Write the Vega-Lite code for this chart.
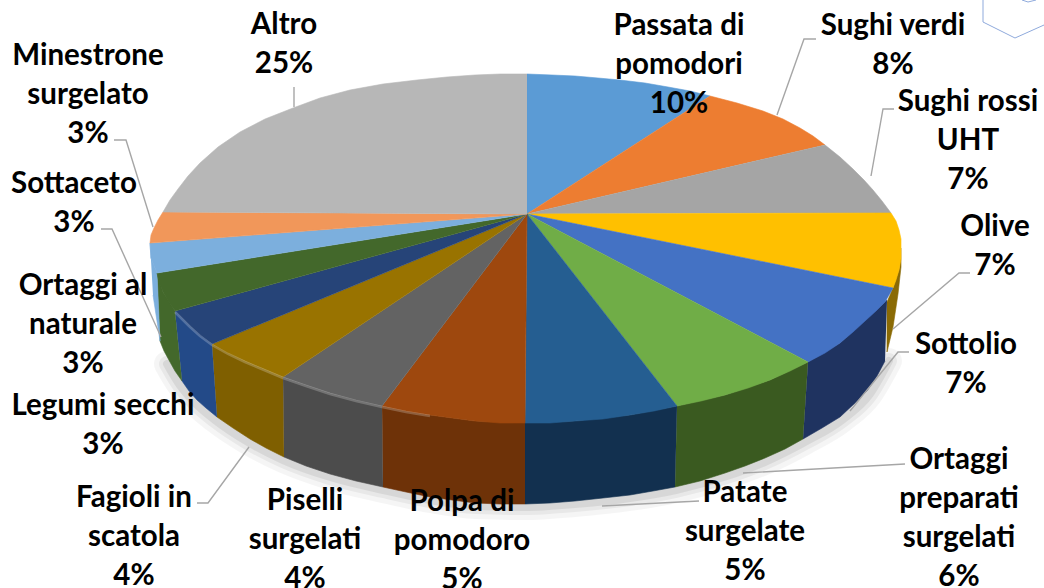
{"$schema":"https://vega.github.io/schema/vega-lite/v6.json","width":1044,"height":588,"padding":0,"autosize":{"type":"none"},"background":"white","config":{"view":{"stroke":null}},
"datasets":{
"top":[
{"s":"Passata di pomodori","i":0,"x":527,"y":214},{"s":"Passata di pomodori","i":1,"x":527,"y":74},{"s":"Passata di pomodori","i":2,"x":552,"y":75},{"s":"Passata di pomodori","i":3,"x":575,"y":76},{"s":"Passata di pomodori","i":4,"x":598,"y":78},{"s":"Passata di pomodori","i":5,"x":620,"y":80},{"s":"Passata di pomodori","i":6,"x":645,"y":83},{"s":"Passata di pomodori","i":7,"x":668,"y":87},{"s":"Passata di pomodori","i":8,"x":690,"y":91},{"s":"Passata di pomodori","i":9,"x":710,"y":96},
{"s":"Sughi verdi","i":0,"x":527,"y":214},{"s":"Sughi verdi","i":1,"x":710,"y":96},{"s":"Sughi verdi","i":2,"x":737,"y":103},{"s":"Sughi verdi","i":3,"x":763,"y":111},{"s":"Sughi verdi","i":4,"x":783,"y":119},{"s":"Sughi verdi","i":5,"x":800,"y":128},{"s":"Sughi verdi","i":6,"x":813,"y":136},{"s":"Sughi verdi","i":7,"x":825,"y":145},
{"s":"Sughi rossi UHT","i":0,"x":527,"y":214},{"s":"Sughi rossi UHT","i":1,"x":825,"y":145},{"s":"Sughi rossi UHT","i":2,"x":840,"y":157},{"s":"Sughi rossi UHT","i":3,"x":853,"y":169},{"s":"Sughi rossi UHT","i":4,"x":864,"y":180},{"s":"Sughi rossi UHT","i":5,"x":873,"y":190},{"s":"Sughi rossi UHT","i":6,"x":882,"y":201},{"s":"Sughi rossi UHT","i":7,"x":891,"y":213},
{"s":"Olive","i":0,"x":527,"y":214},{"s":"Olive","i":1,"x":891,"y":213},{"s":"Olive","i":2,"x":896,"y":221},{"s":"Olive","i":3,"x":899,"y":230},{"s":"Olive","i":4,"x":901,"y":239},{"s":"Olive","i":5,"x":901,"y":248},{"s":"Olive","i":6,"x":901,"y":259},{"s":"Olive","i":7,"x":899,"y":270},{"s":"Olive","i":8,"x":896,"y":280},{"s":"Olive","i":9,"x":893,"y":288},
{"s":"Sottolio","i":0,"x":527,"y":214},{"s":"Sottolio","i":1,"x":893,"y":288},{"s":"Sottolio","i":2,"x":885,"y":302},{"s":"Sottolio","i":3,"x":876,"y":311},{"s":"Sottolio","i":4,"x":865,"y":321},{"s":"Sottolio","i":5,"x":853,"y":332},{"s":"Sottolio","i":6,"x":840,"y":343},{"s":"Sottolio","i":7,"x":825,"y":353},{"s":"Sottolio","i":8,"x":808,"y":362},
{"s":"Ortaggi preparati surgelati","i":0,"x":527,"y":214},{"s":"Ortaggi preparati surgelati","i":1,"x":808,"y":362},{"s":"Ortaggi preparati surgelati","i":2,"x":790,"y":371},{"s":"Ortaggi preparati surgelati","i":3,"x":770,"y":380},{"s":"Ortaggi preparati surgelati","i":4,"x":748,"y":388},{"s":"Ortaggi preparati surgelati","i":5,"x":725,"y":395},{"s":"Ortaggi preparati surgelati","i":6,"x":701,"y":401},{"s":"Ortaggi preparati surgelati","i":7,"x":677,"y":406},
{"s":"Patate surgelate","i":0,"x":527,"y":214},{"s":"Patate surgelate","i":1,"x":677,"y":406},{"s":"Patate surgelate","i":2,"x":654,"y":411},{"s":"Patate surgelate","i":3,"x":630,"y":415},{"s":"Patate surgelate","i":4,"x":603,"y":419},{"s":"Patate surgelate","i":5,"x":575,"y":421},{"s":"Patate surgelate","i":6,"x":550,"y":423},{"s":"Patate surgelate","i":7,"x":525,"y":423},
{"s":"Polpa di pomodoro","i":0,"x":527,"y":214},{"s":"Polpa di pomodoro","i":1,"x":525,"y":423},{"s":"Polpa di pomodoro","i":2,"x":500,"y":423},{"s":"Polpa di pomodoro","i":3,"x":475,"y":421},{"s":"Polpa di pomodoro","i":4,"x":452,"y":418},{"s":"Polpa di pomodoro","i":5,"x":430,"y":415},{"s":"Polpa di pomodoro","i":6,"x":406,"y":411},{"s":"Polpa di pomodoro","i":7,"x":382,"y":406},
{"s":"Piselli surgelati","i":0,"x":527,"y":214},{"s":"Piselli surgelati","i":1,"x":382,"y":406},{"s":"Piselli surgelati","i":2,"x":356,"y":400},{"s":"Piselli surgelati","i":3,"x":330,"y":393},{"s":"Piselli surgelati","i":4,"x":306,"y":385},{"s":"Piselli surgelati","i":5,"x":283,"y":377},
{"s":"Fagioli in scatola","i":0,"x":527,"y":214},{"s":"Fagioli in scatola","i":1,"x":283,"y":377},{"s":"Fagioli in scatola","i":2,"x":264,"y":369},{"s":"Fagioli in scatola","i":3,"x":245,"y":361},{"s":"Fagioli in scatola","i":4,"x":228,"y":353},{"s":"Fagioli in scatola","i":5,"x":212,"y":344},
{"s":"Legumi secchi","i":0,"x":527,"y":214},{"s":"Legumi secchi","i":1,"x":212,"y":344},{"s":"Legumi secchi","i":2,"x":200,"y":335},{"s":"Legumi secchi","i":3,"x":190,"y":326},{"s":"Legumi secchi","i":4,"x":182,"y":318},{"s":"Legumi secchi","i":5,"x":175,"y":311},
{"s":"Ortaggi al naturale","i":0,"x":527,"y":214},{"s":"Ortaggi al naturale","i":1,"x":175,"y":311},{"s":"Ortaggi al naturale","i":2,"x":168,"y":301},{"s":"Ortaggi al naturale","i":3,"x":163,"y":292},{"s":"Ortaggi al naturale","i":4,"x":159,"y":282},{"s":"Ortaggi al naturale","i":5,"x":157,"y":273},
{"s":"Sottaceto","i":0,"x":527,"y":214},{"s":"Sottaceto","i":1,"x":157,"y":273},{"s":"Sottaceto","i":2,"x":151,"y":258},{"s":"Sottaceto","i":3,"x":150,"y":243},
{"s":"Minestrone surgelato","i":0,"x":527,"y":214},{"s":"Minestrone surgelato","i":1,"x":150,"y":243},{"s":"Minestrone surgelato","i":2,"x":151,"y":235},{"s":"Minestrone surgelato","i":3,"x":154,"y":228},{"s":"Minestrone surgelato","i":4,"x":158,"y":220},{"s":"Minestrone surgelato","i":5,"x":163,"y":212},
{"s":"Altro","i":0,"x":527,"y":214},{"s":"Altro","i":1,"x":163,"y":212},{"s":"Altro","i":2,"x":170,"y":200},{"s":"Altro","i":3,"x":178,"y":189},{"s":"Altro","i":4,"x":188,"y":176},{"s":"Altro","i":5,"x":200,"y":163},{"s":"Altro","i":6,"x":218,"y":147},{"s":"Altro","i":7,"x":240,"y":132},{"s":"Altro","i":8,"x":265,"y":119},{"s":"Altro","i":9,"x":293,"y":108},{"s":"Altro","i":10,"x":320,"y":98},{"s":"Altro","i":11,"x":350,"y":90},{"s":"Altro","i":12,"x":383,"y":84},{"s":"Altro","i":13,"x":417,"y":80},{"s":"Altro","i":14,"x":447,"y":77},{"s":"Altro","i":15,"x":475,"y":75},{"s":"Altro","i":16,"x":500,"y":74},{"s":"Altro","i":17,"x":527,"y":74}
],
"rim":[
{"s":"Olive","i":0,"x":901,"y":248},{"s":"Olive","i":1,"x":901,"y":267},{"s":"Olive","i":2,"x":898,"y":294},{"s":"Olive","i":3,"x":893,"y":327},{"s":"Olive","i":4,"x":887,"y":352},{"s":"Olive","i":5,"x":887,"y":302},{"s":"Olive","i":6,"x":893,"y":288},{"s":"Olive","i":7,"x":899,"y":270},
{"s":"Sottolio","i":0,"x":887,"y":300},{"s":"Sottolio","i":1,"x":865,"y":320},{"s":"Sottolio","i":2,"x":840,"y":343},{"s":"Sottolio","i":3,"x":808,"y":362},{"s":"Sottolio","i":4,"x":803,"y":439},{"s":"Sottolio","i":5,"x":822,"y":428},{"s":"Sottolio","i":6,"x":840,"y":417},{"s":"Sottolio","i":7,"x":854,"y":404},{"s":"Sottolio","i":8,"x":867,"y":391},{"s":"Sottolio","i":9,"x":877,"y":376},{"s":"Sottolio","i":10,"x":885,"y":361},
{"s":"Ortaggi preparati surgelati","i":0,"x":808,"y":362},{"s":"Ortaggi preparati surgelati","i":1,"x":770,"y":380},{"s":"Ortaggi preparati surgelati","i":2,"x":725,"y":395},{"s":"Ortaggi preparati surgelati","i":3,"x":677,"y":406},{"s":"Ortaggi preparati surgelati","i":4,"x":675,"y":487},{"s":"Ortaggi preparati surgelati","i":5,"x":700,"y":481},{"s":"Ortaggi preparati surgelati","i":6,"x":725,"y":473},{"s":"Ortaggi preparati surgelati","i":7,"x":745,"y":466},{"s":"Ortaggi preparati surgelati","i":8,"x":765,"y":458},{"s":"Ortaggi preparati surgelati","i":9,"x":785,"y":449},{"s":"Ortaggi preparati surgelati","i":10,"x":803,"y":439},
{"s":"Patate surgelate","i":0,"x":677,"y":406},{"s":"Patate surgelate","i":1,"x":630,"y":415},{"s":"Patate surgelate","i":2,"x":575,"y":421},{"s":"Patate surgelate","i":3,"x":525,"y":423},{"s":"Patate surgelate","i":4,"x":525,"y":504},{"s":"Patate surgelate","i":5,"x":550,"y":503},{"s":"Patate surgelate","i":6,"x":575,"y":501},{"s":"Patate surgelate","i":7,"x":603,"y":498},{"s":"Patate surgelate","i":8,"x":630,"y":495},{"s":"Patate surgelate","i":9,"x":653,"y":491},{"s":"Patate surgelate","i":10,"x":675,"y":487},
{"s":"Polpa di pomodoro","i":0,"x":525,"y":423},{"s":"Polpa di pomodoro","i":1,"x":475,"y":421},{"s":"Polpa di pomodoro","i":2,"x":430,"y":415},{"s":"Polpa di pomodoro","i":3,"x":382,"y":406},{"s":"Polpa di pomodoro","i":4,"x":383,"y":487},{"s":"Polpa di pomodoro","i":5,"x":406,"y":492},{"s":"Polpa di pomodoro","i":6,"x":430,"y":497},{"s":"Polpa di pomodoro","i":7,"x":452,"y":500},{"s":"Polpa di pomodoro","i":8,"x":475,"y":503},{"s":"Polpa di pomodoro","i":9,"x":500,"y":504},{"s":"Polpa di pomodoro","i":10,"x":525,"y":504},
{"s":"Piselli surgelati","i":0,"x":382,"y":406},{"s":"Piselli surgelati","i":1,"x":330,"y":393},{"s":"Piselli surgelati","i":2,"x":283,"y":377},{"s":"Piselli surgelati","i":3,"x":284,"y":457},{"s":"Piselli surgelati","i":4,"x":306,"y":466},{"s":"Piselli surgelati","i":5,"x":330,"y":474},{"s":"Piselli surgelati","i":6,"x":356,"y":481},{"s":"Piselli surgelati","i":7,"x":383,"y":487},
{"s":"Fagioli in scatola","i":0,"x":283,"y":377},{"s":"Fagioli in scatola","i":1,"x":245,"y":361},{"s":"Fagioli in scatola","i":2,"x":212,"y":344},{"s":"Fagioli in scatola","i":3,"x":217,"y":417},{"s":"Fagioli in scatola","i":4,"x":233,"y":428},{"s":"Fagioli in scatola","i":5,"x":250,"y":439},{"s":"Fagioli in scatola","i":6,"x":266,"y":448},{"s":"Fagioli in scatola","i":7,"x":284,"y":457},
{"s":"Legumi secchi","i":0,"x":212,"y":344},{"s":"Legumi secchi","i":1,"x":190,"y":326},{"s":"Legumi secchi","i":2,"x":175,"y":311},{"s":"Legumi secchi","i":3,"x":182,"y":381},{"s":"Legumi secchi","i":4,"x":189,"y":391},{"s":"Legumi secchi","i":5,"x":197,"y":400},{"s":"Legumi secchi","i":6,"x":206,"y":408},{"s":"Legumi secchi","i":7,"x":217,"y":417},
{"s":"Ortaggi al naturale","i":0,"x":175,"y":311},{"s":"Ortaggi al naturale","i":1,"x":163,"y":292},{"s":"Ortaggi al naturale","i":2,"x":157,"y":273},{"s":"Ortaggi al naturale","i":3,"x":160,"y":341},{"s":"Ortaggi al naturale","i":4,"x":164,"y":351},{"s":"Ortaggi al naturale","i":5,"x":170,"y":362},{"s":"Ortaggi al naturale","i":6,"x":175,"y":371},{"s":"Ortaggi al naturale","i":7,"x":182,"y":381},
{"s":"Sottaceto","i":0,"x":150,"y":243},{"s":"Sottaceto","i":1,"x":151,"y":258},{"s":"Sottaceto","i":2,"x":157,"y":273},{"s":"Sottaceto","i":3,"x":160,"y":341},{"s":"Sottaceto","i":4,"x":153,"y":295}
],
"shadow":[
{"i":0,"x":889,"y":361},{"i":1,"x":870,"y":394},{"i":2,"x":842,"y":420},{"i":3,"x":805,"y":442},{"i":4,"x":767,"y":461},{"i":5,"x":727,"y":476},{"i":6,"x":676,"y":490},{"i":7,"x":630,"y":498},{"i":8,"x":575,"y":504},{"i":9,"x":525,"y":507},{"i":10,"x":475,"y":506},{"i":11,"x":430,"y":500},{"i":12,"x":383,"y":490},{"i":13,"x":330,"y":477},{"i":14,"x":283,"y":460},{"i":15,"x":248,"y":442},{"i":16,"x":215,"y":420},{"i":17,"x":195,"y":403},{"i":18,"x":179,"y":384},{"i":19,"x":167,"y":364}
],
"bevel":[
{"i":0,"x":430,"y":416},{"i":1,"x":406,"y":412},{"i":2,"x":382,"y":407},{"i":3,"x":356,"y":401},{"i":4,"x":330,"y":394},{"i":5,"x":306,"y":386},{"i":6,"x":283,"y":378},{"i":7,"x":264,"y":370},{"i":8,"x":245,"y":362},{"i":9,"x":228,"y":354},{"i":10,"x":212,"y":345},{"i":11,"x":200,"y":336},{"i":12,"x":190,"y":327},{"i":13,"x":182,"y":319},{"i":14,"x":175,"y":312}
],
"leaders":[
{"s":"Sughi verdi","i":0,"x":816,"y":39},{"s":"Sughi verdi","i":1,"x":804,"y":39},{"s":"Sughi verdi","i":2,"x":777,"y":115},
{"s":"Sughi rossi UHT","i":0,"x":894,"y":109},{"s":"Sughi rossi UHT","i":1,"x":883,"y":109},{"s":"Sughi rossi UHT","i":2,"x":871,"y":176},
{"s":"Olive","i":0,"x":970,"y":273},{"s":"Olive","i":1,"x":959,"y":273},{"s":"Olive","i":2,"x":893,"y":329},
{"s":"Sottolio","i":0,"x":909,"y":352},{"s":"Sottolio","i":1,"x":898,"y":352},{"s":"Sottolio","i":2,"x":850,"y":411},
{"s":"Ortaggi preparati surgelati","i":0,"x":905,"y":464},{"s":"Ortaggi preparati surgelati","i":1,"x":743,"y":473},
{"s":"Patate surgelate","i":0,"x":699,"y":501},{"s":"Patate surgelate","i":1,"x":602,"y":506},
{"s":"Fagioli in scatola","i":0,"x":197,"y":503},{"s":"Fagioli in scatola","i":1,"x":208,"y":503},{"s":"Fagioli in scatola","i":2,"x":249,"y":447},
{"s":"Altro","i":0,"x":294,"y":87},{"s":"Altro","i":1,"x":294,"y":107},
{"s":"Minestrone surgelato","i":0,"x":114,"y":140},{"s":"Minestrone surgelato","i":1,"x":126,"y":140},{"s":"Minestrone surgelato","i":2,"x":153,"y":227},
{"s":"Sottaceto","i":0,"x":101,"y":229},{"s":"Sottaceto","i":1,"x":112,"y":229},{"s":"Sottaceto","i":2,"x":161,"y":337}
],
"deco":[
{"s":"a","i":0,"x":983,"y":0},{"s":"a","i":1,"x":983,"y":22},{"s":"a","i":2,"x":1015,"y":38},{"s":"a","i":3,"x":1044,"y":25},
{"s":"b","i":0,"x":1022,"y":0},{"s":"b","i":1,"x":1028,"y":2},{"s":"b","i":2,"x":1036,"y":0}
],
"labels":[
{"slice":"Passata di pomodori","pct":10,"text":"Passata di\npomodori\n10%","x":679,"y":26},
{"slice":"Sughi verdi","pct":8,"text":"Sughi verdi\n8%","x":893,"y":26},
{"slice":"Sughi rossi UHT","pct":7,"text":"Sughi rossi\nUHT\n7%","x":968,"y":102},
{"slice":"Olive","pct":7,"text":"Olive\n7%","x":995,"y":227},
{"slice":"Sottolio","pct":7,"text":"Sottolio\n7%","x":966,"y":345},
{"slice":"Ortaggi preparati surgelati","pct":6,"text":"Ortaggi\npreparati\nsurgelati\n6%","x":959,"y":460},
{"slice":"Patate surgelate","pct":5,"text":"Patate\nsurgelate\n5%","x":745,"y":493},
{"slice":"Polpa di pomodoro","pct":5,"text":"Polpa di\npomodoro\n5%","x":462,"y":502},
{"slice":"Piselli surgelati","pct":4,"text":"Piselli\nsurgelati\n4%","x":305,"y":501},
{"slice":"Fagioli in scatola","pct":4,"text":"Fagioli in\nscatola\n4%","x":134,"y":498},
{"slice":"Legumi secchi","pct":3,"text":"Legumi secchi\n3%","x":103,"y":406},
{"slice":"Ortaggi al naturale","pct":3,"text":"Ortaggi al\nnaturale\n3%","x":83,"y":286},
{"slice":"Sottaceto","pct":3,"text":"Sottaceto\n3%","x":74,"y":184},
{"slice":"Minestrone surgelato","pct":3,"text":"Minestrone\nsurgelato\n3%","x":88,"y":56},
{"slice":"Altro","pct":25,"text":"Altro\n25%","x":284,"y":25}
]},
"encoding":{
"x":{"field":"x","type":"quantitative","scale":{"domain":[0,1044],"nice":false,"zero":false},"axis":null},
"y":{"field":"y","type":"quantitative","scale":{"domain":[588,0],"nice":false,"zero":false},"axis":null}},
"layer":[
{"data":{"name":"shadow"},"mark":{"type":"line","color":"#000000","opacity":0.04,"strokeWidth":26,"strokeCap":"round","interpolate":"monotone"},"encoding":{"order":{"field":"i"}}},
{"data":{"name":"shadow"},"mark":{"type":"line","color":"#000000","opacity":0.05,"strokeWidth":16,"strokeCap":"round","interpolate":"monotone"},"encoding":{"order":{"field":"i"}}},
{"data":{"name":"shadow"},"mark":{"type":"line","color":"#000000","opacity":0.07,"strokeWidth":8,"strokeCap":"round","interpolate":"monotone"},"encoding":{"order":{"field":"i"}}},
{"data":{"name":"rim"},"mark":{"type":"line","filled":true,"strokeWidth":0.6},"encoding":{"order":{"field":"i"},
"fill":{"field":"s","type":"nominal","legend":null,"scale":{"domain":["Olive","Sottolio","Ortaggi preparati surgelati","Patate surgelate","Polpa di pomodoro","Piselli surgelati","Fagioli in scatola","Legumi secchi","Ortaggi al naturale","Sottaceto"],"range":["#8A6A05","#1F3360","#3A5A20","#12304F","#6E3208","#4C4C4C","#7F5F00","#234A88","#43682B","#7CAFDD"]}},
"stroke":{"field":"s","type":"nominal","legend":null,"scale":{"domain":["Olive","Sottolio","Ortaggi preparati surgelati","Patate surgelate","Polpa di pomodoro","Piselli surgelati","Fagioli in scatola","Legumi secchi","Ortaggi al naturale","Sottaceto"],"range":["#8A6A05","#1F3360","#3A5A20","#12304F","#6E3208","#4C4C4C","#7F5F00","#234A88","#43682B","#7CAFDD"]}}}},
{"data":{"name":"top"},"mark":{"type":"line","filled":true,"strokeWidth":0.6},"encoding":{"order":{"field":"i"},
"fill":{"field":"s","type":"nominal","legend":null,"scale":{"domain":["Passata di pomodori","Sughi verdi","Sughi rossi UHT","Olive","Sottolio","Ortaggi preparati surgelati","Patate surgelate","Polpa di pomodoro","Piselli surgelati","Fagioli in scatola","Legumi secchi","Ortaggi al naturale","Sottaceto","Minestrone surgelato","Altro"],"range":["#5B9BD5","#ED7D31","#A5A5A5","#FFC000","#4472C4","#70AD47","#255E91","#9E480E","#636363","#997300","#264478","#43682B","#7CAFDD","#F1975A","#B7B7B7"]}},
"stroke":{"field":"s","type":"nominal","legend":null,"scale":{"domain":["Passata di pomodori","Sughi verdi","Sughi rossi UHT","Olive","Sottolio","Ortaggi preparati surgelati","Patate surgelate","Polpa di pomodoro","Piselli surgelati","Fagioli in scatola","Legumi secchi","Ortaggi al naturale","Sottaceto","Minestrone surgelato","Altro"],"range":["#5B9BD5","#ED7D31","#A5A5A5","#FFC000","#4472C4","#70AD47","#255E91","#9E480E","#636363","#997300","#264478","#43682B","#7CAFDD","#F1975A","#B7B7B7"]}}}},
{"data":{"name":"bevel"},"mark":{"type":"line","color":"#FFFFFF","opacity":0.22,"strokeWidth":2.5},"encoding":{"order":{"field":"i"}}},
{"data":{"name":"leaders"},"mark":{"type":"line","color":"#A6A6A6","strokeWidth":1.4},"encoding":{"order":{"field":"i"},"detail":{"field":"s"}}},
{"data":{"name":"deco"},"mark":{"type":"line","color":"#8FAADC","strokeWidth":1},"encoding":{"order":{"field":"i"},"detail":{"field":"s"}}},
{"data":{"name":"labels"},"mark":{"type":"text","font":"Lato","fontWeight":"bold","fontSize":29.5,"lineHeight":39,"lineBreak":"\n","align":"center","baseline":"middle","color":"#000000"},"encoding":{"text":{"field":"text"}}}
],
"resolve":{"scale":{"fill":"independent","stroke":"independent"}}}
